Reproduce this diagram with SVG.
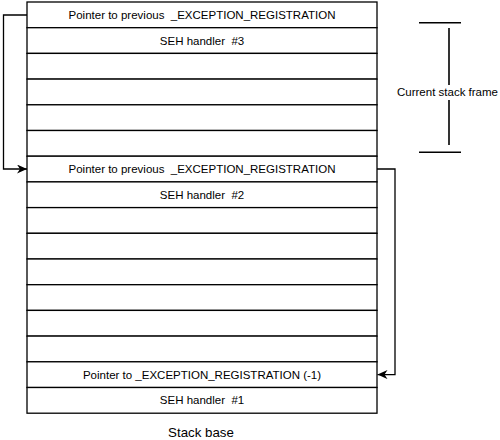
<svg xmlns="http://www.w3.org/2000/svg" width="500" height="440" viewBox="0 0 500 440">
<style>
.row{fill:#fff;stroke:#000;stroke-width:1.3}
.t{font-family:"Liberation Sans",Arial,sans-serif;font-size:11.5px;fill:#000;text-anchor:middle}
.conn{fill:none;stroke:#000;stroke-width:1.3}
.br{stroke:#000;stroke-width:1.6}
</style>
<defs>
<marker id="ah" markerUnits="userSpaceOnUse" markerWidth="11" markerHeight="9" refX="10" refY="4.5" orient="auto">
<path d="M0,0 L10,4.5 L0,9 L3,4.5 z" fill="#000"/>
</marker>
</defs>
<rect x="0" y="0" width="500" height="440" fill="#fff"/>
<g id="stack">
<g id="row0"><rect class="row" x="27" y="2" width="350" height="25.7"/><text class="t" x="202" y="18.9" xml:space="preserve">Pointer to previous  _EXCEPTION_REGISTRATION</text></g>
<g id="row1"><rect class="row" x="27" y="27.7" width="350" height="25.7"/><text class="t" x="202" y="44.6" xml:space="preserve">SEH handler  #3</text></g>
<g id="row2"><rect class="row" x="27" y="53.4" width="350" height="25.7"/></g>
<g id="row3"><rect class="row" x="27" y="79.1" width="350" height="25.7"/></g>
<g id="row4"><rect class="row" x="27" y="104.8" width="350" height="25.7"/></g>
<g id="row5"><rect class="row" x="27" y="130.5" width="350" height="25.7"/></g>
<g id="row6"><rect class="row" x="27" y="156.2" width="350" height="25.7"/><text class="t" x="202" y="173" xml:space="preserve">Pointer to previous  _EXCEPTION_REGISTRATION</text></g>
<g id="row7"><rect class="row" x="27" y="181.9" width="350" height="25.7"/><text class="t" x="202" y="198.8" xml:space="preserve">SEH handler  #2</text></g>
<g id="row8"><rect class="row" x="27" y="207.6" width="350" height="25.7"/></g>
<g id="row9"><rect class="row" x="27" y="233.3" width="350" height="25.7"/></g>
<g id="row10"><rect class="row" x="27" y="259" width="350" height="25.7"/></g>
<g id="row11"><rect class="row" x="27" y="284.7" width="350" height="25.7"/></g>
<g id="row12"><rect class="row" x="27" y="310.4" width="350" height="25.7"/></g>
<g id="row13"><rect class="row" x="27" y="336.1" width="350" height="25.7"/></g>
<g id="row14"><rect class="row" x="27" y="361.8" width="350" height="25.7"/><text class="t" x="202" y="378.7">Pointer to _EXCEPTION_REGISTRATION (-1)</text></g>
<g id="row15"><rect class="row" x="27" y="387.5" width="350" height="25.7"/><text class="t" x="202" y="404.4" xml:space="preserve">SEH handler  #1</text></g>
</g>
<g id="frame">
<line class="br" x1="419" y1="22.7" x2="461" y2="22.7"/>
<line class="br" x1="449" y1="28" x2="449" y2="85"/>
<line class="br" x1="449" y1="100" x2="449" y2="145"/>
<line class="br" x1="419" y1="152.3" x2="461" y2="152.3"/>
<text class="t" x="447.5" y="96">Current stack frame</text>
</g>
<g id="base"><text class="t" x="201" y="437" style="font-size:13.3px">Stack base</text></g>
<g id="connectors">
<path class="conn" d="M27,15 H3.5 V169 H27" marker-end="url(#ah)"/>
<path class="conn" d="M377,169 H395 V374.6 H377.5" marker-end="url(#ah)"/>
</g>
</svg>
